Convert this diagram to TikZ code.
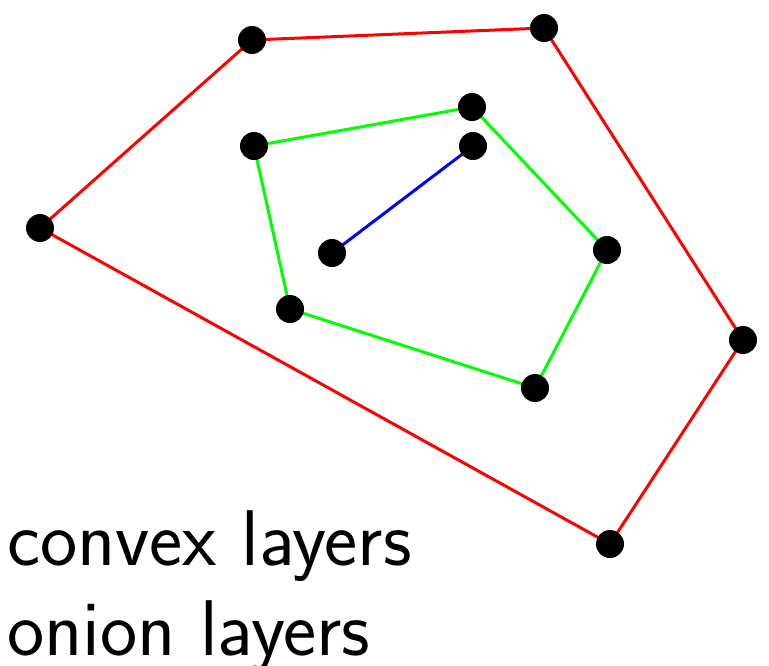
\documentclass[tikz,border=0pt]{standalone}
\begin{document}
\begin{tikzpicture}[x=1pt,y=-1pt,
  pt/.style={circle,fill=black,inner sep=0pt,minimum size=28pt},
  hull/.style={line width=3pt},
  lbl/.style={anchor=base west,inner sep=0pt,font=\sffamily\fontsize{79}{90}\selectfont}]
\useasboundingbox (0,0) rectangle (769,665);
\coordinate (r1) at (252,40);
\coordinate (r2) at (544,28);
\coordinate (r3) at (743,340);
\coordinate (r4) at (610,544);
\coordinate (r5) at (40,228);
\coordinate (g1) at (254,146);
\coordinate (g2) at (472,107);
\coordinate (g3) at (607,250);
\coordinate (g4) at (535,388);
\coordinate (g5) at (290,309);
\coordinate (b1) at (332,253);
\coordinate (b2) at (473,146);
\draw[hull,red] (r1) -- (r2) -- (r3) -- (r4) -- (r5) -- cycle;
\draw[hull,green] (g1) -- (g2) -- (g3) -- (g4) -- (g5) -- cycle;
\draw[hull,blue] (b1) -- (b2);
\foreach \p in {r1,r2,r3,r4,r5,g1,g2,g3,g4,g5,b1,b2}
  \node[pt] (n\p) at (\p) {};
\node[lbl] (t1) at (7,565) {convex layers};
\node[lbl] (t2) at (7,655) {onion layers};
\end{tikzpicture}
\end{document}
